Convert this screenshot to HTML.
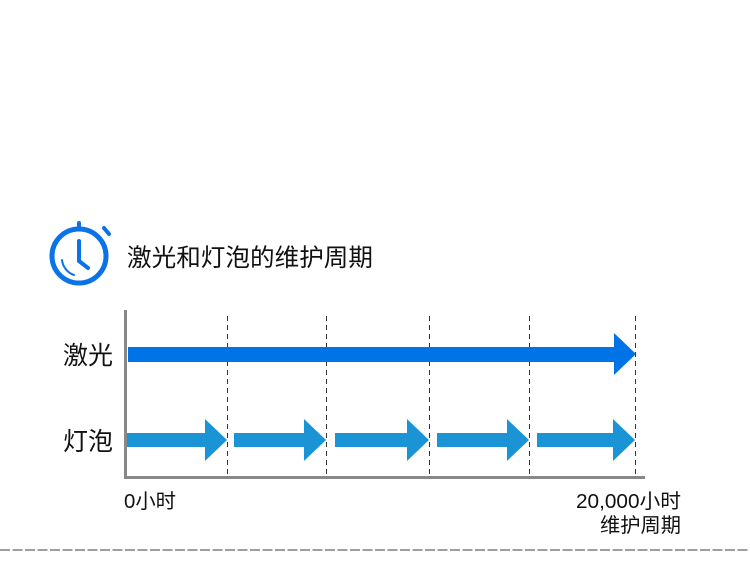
<!DOCTYPE html>
<html><head><meta charset="utf-8"><style>
html,body{margin:0;padding:0;background:#fff;width:750px;height:561px;overflow:hidden}
svg{display:block}
text{font-family:"Liberation Sans","Noto Sans CJK SC",sans-serif;fill:#111}
</style></head><body>
<svg width="750" height="561" viewBox="0 0 750 561">
<g fill="none" stroke="#0a73e8" stroke-linecap="round">
<circle cx="79" cy="256" r="27" stroke-width="5"/>
<line x1="79" y1="223" x2="79" y2="229" stroke-width="4"/>
<line x1="104" y1="228" x2="109" y2="234" stroke-width="4"/>
<polyline points="79,241 79,261 88,268" stroke-width="4"/>
<path d="M62 260 A18 18 0 0 0 74 275" stroke-width="2"/>
</g>
<text x="127" y="266" font-size="24.5" textLength="246" lengthAdjust="spacingAndGlyphs">激光和灯泡的维护周期</text>
<g stroke="#333" stroke-width="1" stroke-dasharray="5,4">
<line x1="227.5" y1="316" x2="227.5" y2="478"/>
<line x1="326.5" y1="316" x2="326.5" y2="478"/>
<line x1="429.5" y1="316" x2="429.5" y2="478"/>
<line x1="529.5" y1="316" x2="529.5" y2="478"/>
<line x1="635.5" y1="316" x2="635.5" y2="478"/>
</g>
<line x1="125.5" y1="310" x2="125.5" y2="479" stroke="#888" stroke-width="3"/>
<line x1="124" y1="477.5" x2="645" y2="477.5" stroke="#888" stroke-width="3"/>
<polygon points="128,347 614,347 614,333 636,354 614,375 614,362 128,362" fill="#0073e6"/>
<g fill="#1a94d4">
<polygon points="127,433 205,433 205,419 227,440 205,461 205,447 127,447"/>
<polygon points="234,433 304,433 304,419 326,440 304,461 304,447 234,447"/>
<polygon points="335,433 407,433 407,419 429,440 407,461 407,447 335,447"/>
<polygon points="437,433 507,433 507,419 529,440 507,461 507,447 437,447"/>
<polygon points="537,433 613,433 613,419 635,440 613,461 613,447 537,447"/>
</g>
<text x="63" y="364" font-size="25">激光</text>
<text x="63" y="450" font-size="25">灯泡</text>
<text x="124" y="508" font-size="20" textLength="52" lengthAdjust="spacingAndGlyphs">0小时</text>
<text x="576" y="508" font-size="20" textLength="105" lengthAdjust="spacingAndGlyphs">20,000小时</text>
<text x="600" y="532" font-size="20" textLength="81" lengthAdjust="spacingAndGlyphs">维护周期</text>
<line x1="0" y1="550" x2="750" y2="550" stroke="#666" stroke-width="1.2" stroke-dasharray="10,2.5"/>
</svg>
</body></html>
